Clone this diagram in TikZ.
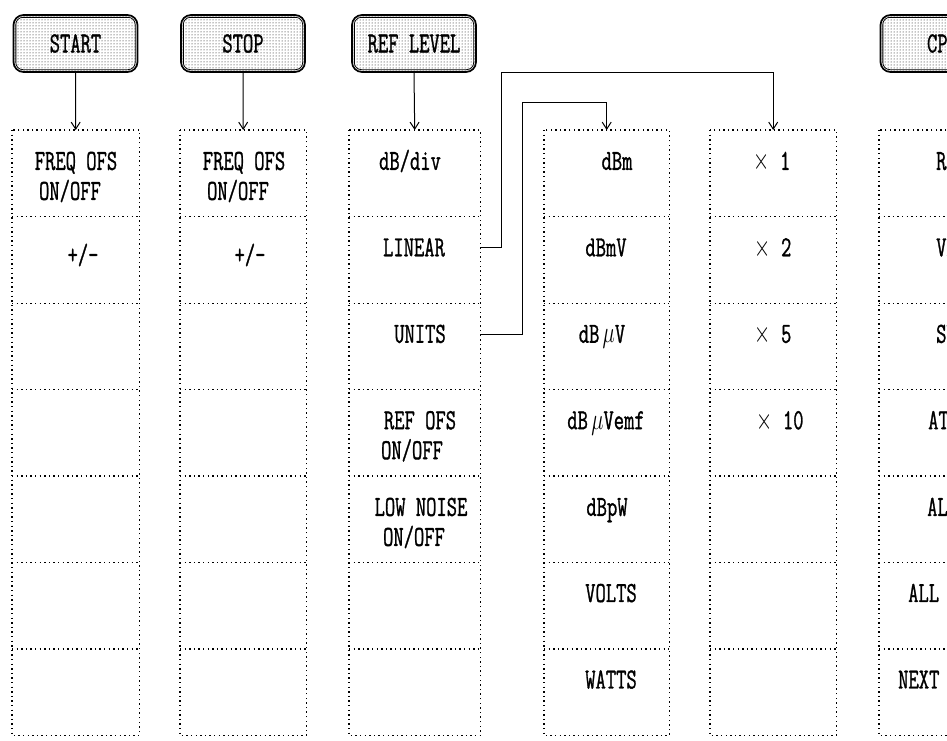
\documentclass[tikz,border=0pt]{standalone}
\usepackage{fontspec}
\newfontfamily\dotfont{Latin Modern Mono}[FakeBold=1.3]
\usetikzlibrary{arrows.meta,patterns}
\newcommand\ft[1]{\scalebox{1}[1.45]{#1}}
\begin{document}
\begin{tikzpicture}[x=1pt,y=-1pt,
  txt/.style={inner sep=0pt, text height=17.7pt, text depth=0pt, font=\fontsize{20}{24}\selectfont\dotfont},
  cell/.style={inner sep=0pt, minimum height=86.43pt, anchor=north west},
  gridline/.style={line width=1.3pt, dash pattern=on 1.4pt off 3.2pt},
  btn/.style={draw, line width=1.7pt, rounded corners=10pt, minimum width=124pt, minimum height=57pt,
    inner sep=0pt, pattern=dots, pattern color=black, text height=17.7pt, text depth=0pt,
    font=\fontsize{20}{24}\selectfont\dotfont},
  arr/.style={line width=1pt, -{Straight Barb[length=7pt,width=9pt]}},
  link/.style={line width=1.1pt}
]
\useasboundingbox (0,0) rectangle (947,740);
\clip (0,0) rectangle (947,740);
\fill[white] (0,0) rectangle (947,740);

% cells
\foreach \i/\xl/\w in {1/12/127,2/180/126,3/349/131,4/544/125,5/710/126,6/879/127} {
  \foreach \r in {1,...,7} {
    \node[cell, minimum width=\w pt] (c\i\r) at (\xl, {130+(\r-1)*86.43}) {};
  }
  \draw[gridline] (c\i1.north west) rectangle (c\i7.south east);
  \foreach \r in {1,...,6} {
    \draw[gridline] (c\i\r.south west) -- (c\i\r.south east);
  }
}

% buttons
\node[btn] (b1) at (75.5,43.5) {\ft{START}};
\node[btn] (b2) at (243,43.5) {\ft{STOP}};
\node[btn] (b3) at (414,43.5) {\ft{REF LEVEL}};
\node[btn] (b6) at (942.5,43.5) {\ft{CPL}};
\foreach \b in {b1,b2,b3,b6} {
  \draw[line width=0.8pt, rounded corners=7pt] ([shift={(3.2pt,-3.2pt)}]\b.north west) rectangle ([shift={(-3.2pt,3.2pt)}]\b.south east);
}

% arrows from buttons
\draw[arr] (b1.south) -- (c11.north);
\draw[arr] (b2.south) -- (c21.north);
\draw[arr] (b3.south) -- (c31.north);

% column 1
\node[txt] (t11a) at (76,161) {\ft{FREQ OFS}};
\node[txt] (t11b) at (70,191) {\ft{ON/OFF}};
\node[txt] (t12) at (83,255) {\ft{+/-}};
% column 2
\node[txt] (t21a) at (244,161) {\ft{FREQ OFS}};
\node[txt] (t21b) at (238,191) {\ft{ON/OFF}};
\node[txt] (t22) at (250,255) {\ft{+/-}};
% column 3
\node[txt] (t31) at (410,161) {\ft{dB/div}};
\node[txt] (t32) at (414,247.4) {\ft{LINEAR}};
\node[txt] (t33) at (420,333.9) {\ft{UNITS}};
\node[txt] (t34a) at (420,420.3) {\ft{REF OFS}};
\node[txt] (t34b) at (412,450.3) {\ft{ON/OFF}};
\node[txt] (t35a) at (421,507) {\ft{LOW NOISE}};
\node[txt] (t35b) at (414,537) {\ft{ON/OFF}};
% column 4
\node[txt] (t41) at (617,161) {\ft{dBm}};
\node[txt] (t42) at (606,247.4) {\ft{dBmV}};
\node[txt] (t43) at (602,333.9) {\ft{dB\,$\mu$V}};
\node[txt] (t44) at (606,420.3) {\ft{dB\,$\mu$Vemf}};
\node[txt] (t45) at (607,507) {\ft{dBpW}};
\node[txt] (t46) at (611,593.1) {\ft{VOLTS}};
\node[txt] (t47) at (611,679.6) {\ft{WATTS}};
% column 5
\node[txt] (t51) at (772,161) {\ft{$\times$ 1}};
\node[txt] (t52) at (773,247.4) {\ft{$\times$ 2}};
\node[txt] (t53) at (773,333.9) {\ft{$\times$ 5}};
\node[txt] (t54) at (780,420.3) {\ft{$\times$ 10}};
% column 6 (cut off at the right edge, as in the reference)
\node[txt, anchor=west] (t61) at (936,161) {\ft{RBW}};
\node[txt, anchor=west] (t62) at (936,247.4) {\ft{VBW}};
\node[txt, anchor=west] (t63) at (936,333.9) {\ft{SWT}};
\node[txt, anchor=west] (t64) at (928,420.3) {\ft{ATT}};
\node[txt, anchor=west] (t65) at (927,507) {\ft{ALL AUTO}};
\node[txt, anchor=west] (t66) at (908,593.1) {\ft{ALL MAN}};
\node[txt, anchor=west] (t67) at (898,679.6) {\ft{NEXT}};

% connectors
\draw[link, arr] ([yshift=12.2pt]c32.east) -- ++(21,0) |- ([yshift=58pt]c51.north) -- (c51.north);
\draw[link, arr] ([yshift=12.2pt]c33.east) -- ++(42,0) |- ([yshift=28pt]c41.north) -- (c41.north);
\end{tikzpicture}
\end{document}
